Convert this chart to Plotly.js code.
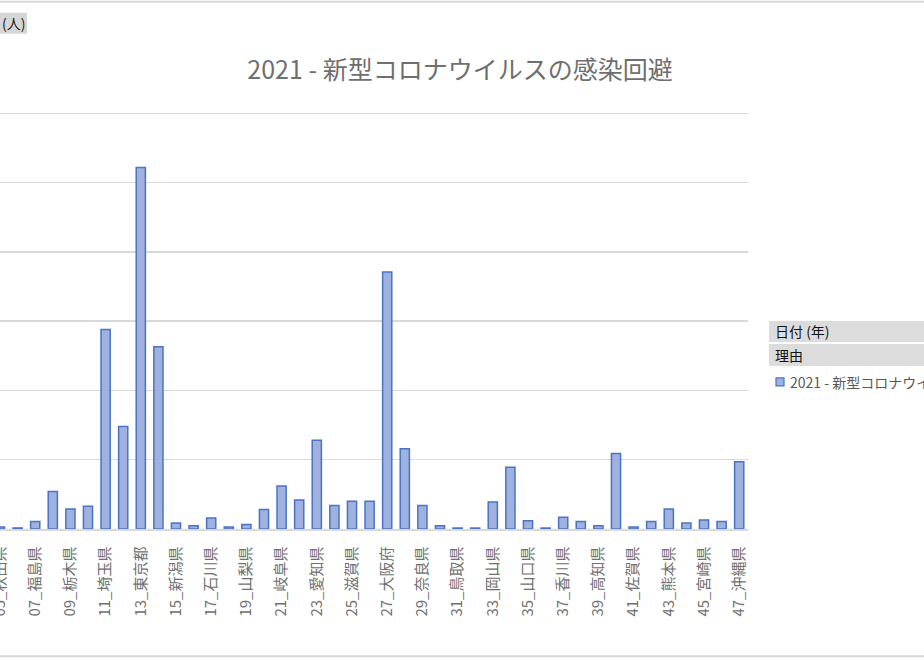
<!DOCTYPE html>
<html>
<head>
<meta charset="utf-8">
<script src="https://cdn.plot.ly/plotly-3.0.1.min.js"></script>
<style>
html,body{margin:0;padding:0;background:#fff;overflow:hidden;}
#chart{width:924px;height:660px;}
</style>
</head>
<body>
<div id="chart"></div>
<script>
// ---- data ----
const prefectures = [
  "05_秋田県","06_山形県","07_福島県","08_茨城県","09_栃木県","10_群馬県",
  "11_埼玉県","12_千葉県","13_東京都","14_神奈川県","15_新潟県","16_富山県",
  "17_石川県","18_福井県","19_山梨県","20_長野県","21_岐阜県","22_静岡県",
  "23_愛知県","24_三重県","25_滋賀県","26_京都府","27_大阪府","28_兵庫県",
  "29_奈良県","30_和歌山県","31_鳥取県","32_島根県","33_岡山県","34_広島県",
  "35_山口県","36_徳島県","37_香川県","38_愛媛県","39_高知県","40_福岡県",
  "41_佐賀県","42_長崎県","43_熊本県","44_大分県","45_宮崎県","46_鹿児島県",
  "47_沖縄県"
];
const values2021 = [
  0.3, 0.15, 1.1, 5.4, 2.9, 3.3,
  28.8, 14.8, 52.2, 26.3, 0.86, 0.48,
  1.6, 0.29, 0.66, 2.8, 6.2, 4.2,
  12.8, 3.4, 4.0, 4.0, 37.1, 11.6,
  3.4, 0.48, 0.14, 0.14, 3.9, 8.9,
  1.2, 0.14, 1.7, 1.1, 0.48, 10.9,
  0.29, 1.1, 2.9, 0.86, 1.3, 1.1,
  9.7
];
const tickLabels = prefectures.filter((p, i) => i % 2 === 0);
const gridValues = [10, 20, 30, 40, 50, 60];
const seriesName = "2021 - 新型コロナウイルスの感染回避";
const chartTitle = "2021 - 新型コロナウイルスの感染回避";
const unitLabel = "(人)";
const fieldButtons = ["日付 (年)", "理由"];

// ---- layout helpers (pixel -> paper) ----
const W = 924, H = 660;
const PL = 0, PR = 748, PT = 109.5, PB = 529.5;
const px = x => (x - PL) / (PR - PL);
const py = y => (PB - y) / (PB - PT);
const FONT = '"Noto Sans CJK JP", "Noto Sans", sans-serif';

const trace = {
  type: 'bar',
  x: prefectures,
  y: values2021,
  name: seriesName,
  marker: {
    color: '#9fb2df',
    line: {color: '#4a73c5', width: 1.5}
  },
  hoverinfo: 'x+y'
};

const shapes = [
  // frame lines of the window
  {type:'line', xref:'paper', yref:'paper', x0:px(-10), x1:px(940), y0:py(1), y1:py(1),
   line:{color:'#d9d9d9', width:2}},
  {type:'line', xref:'paper', yref:'paper', x0:px(-10), x1:px(940), y0:py(657), y1:py(657),
   line:{color:'#d9d9d9', width:2}},
  // (人) button
  {type:'rect', xref:'paper', yref:'paper', x0:px(-10), x1:px(27), y0:py(33), y1:py(12),
   fillcolor:'#d6d6d6', line:{width:0}},
  // field buttons
  {type:'rect', xref:'paper', yref:'paper', x0:px(769), x1:px(940), y0:py(342), y1:py(321),
   fillcolor:'#dcdcdc', line:{width:0}},
  {type:'rect', xref:'paper', yref:'paper', x0:px(769), x1:px(940), y0:py(366), y1:py(344),
   fillcolor:'#dcdcdc', line:{width:0}},
  // legend swatch
  {type:'rect', xref:'paper', yref:'paper', x0:px(776), x1:px(784), y0:py(386), y1:py(378),
   fillcolor:'#9fb2df', line:{color:'#4a73c5', width:1.2}}
];

const annotations = [
  {xref:'paper', yref:'paper', x:px(27), y:py(22.5), xanchor:'right', yanchor:'middle',
   text:unitLabel, showarrow:false, font:{family:FONT, size:14, color:'#202020'}},
  {xref:'paper', yref:'paper', x:px(773), y:py(331.5), xanchor:'left', yanchor:'middle',
   text:fieldButtons[0], showarrow:false, font:{family:FONT, size:14, color:'#111111'}},
  {xref:'paper', yref:'paper', x:px(773), y:py(355), xanchor:'left', yanchor:'middle',
   text:fieldButtons[1], showarrow:false, font:{family:FONT, size:14, color:'#111111'}},
  {xref:'paper', yref:'paper', x:px(788), y:py(382), xanchor:'left', yanchor:'middle',
   text:seriesName, showarrow:false, font:{family:FONT, size:14, color:'#595959'}}
];

const layout = {
  width: W, height: H,
  margin: {l: PL, r: W - PR, t: PT, b: H - PB, pad: 0},
  paper_bgcolor: '#ffffff',
  plot_bgcolor: '#ffffff',
  showlegend: false,
  bargap: 0.48,
  title: {
    text: chartTitle,
    xref: 'container', yref: 'container',
    x: 460 / W, y: 1 - 70 / H, xanchor: 'center', yanchor: 'middle',
    font: {family: FONT, size: 25, color: '#6f6f6f'}
  },
  xaxis: {
    type: 'category',
    range: [0, 42.5],
    tickmode: 'array',
    tickvals: tickLabels,
    ticktext: tickLabels,
    tickangle: -90,
    ticks: '',
    ticklabelstandoff: 10,
    tickfont: {family: FONT, size: 15, color: '#707070'},
    showline: true, linecolor: '#d9d9d9', linewidth: 1.5,
    showgrid: false, fixedrange: true
  },
  yaxis: {
    range: [0, 60.5],
    tickmode: 'array',
    tickvals: gridValues,
    showticklabels: false,
    ticks: '',
    showgrid: true, gridcolor: '#d9d9d9', gridwidth: 1.5,
    zeroline: false, showline: false, fixedrange: true
  },
  shapes: shapes,
  annotations: annotations
};

Plotly.newPlot('chart', [trace], layout, {displayModeBar: false, staticPlot: true});
</script>
</body>
</html>
